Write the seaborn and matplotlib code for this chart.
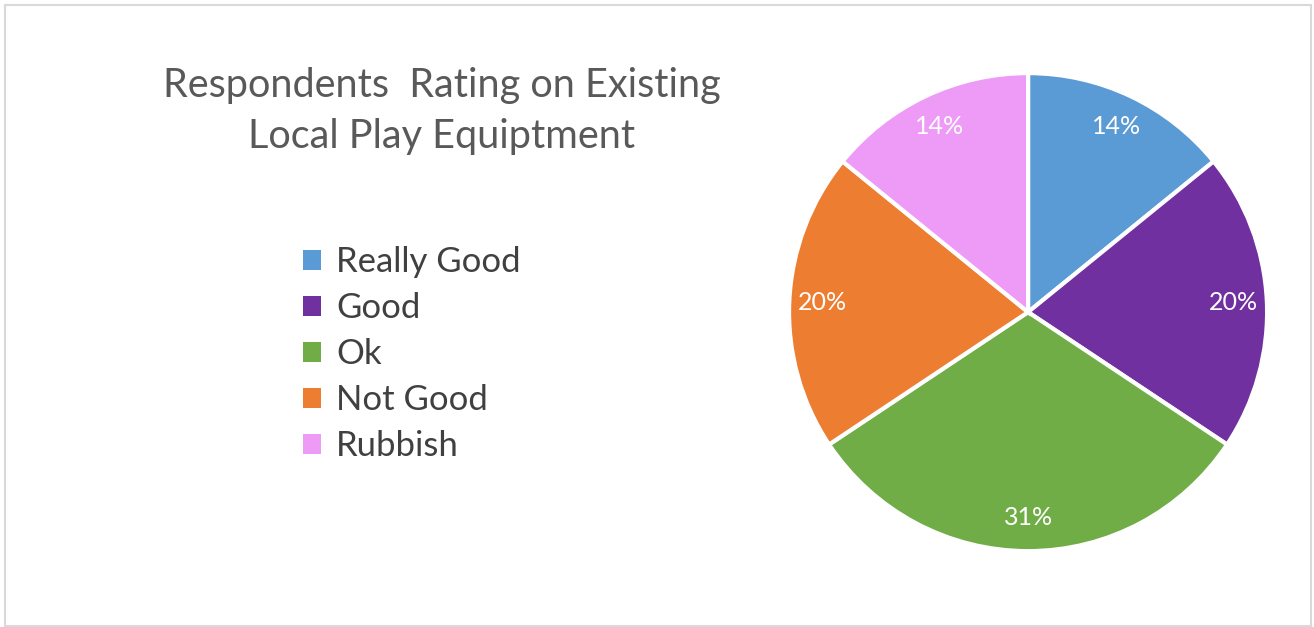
import matplotlib
matplotlib.use("Agg")
import matplotlib.pyplot as plt
import seaborn as sns
from matplotlib.patches import Rectangle

# data
ratings = ["Really Good", "Good", "Ok", "Not Good", "Rubbish"]
shares = [14, 20, 31, 20, 14]
colours = ["#5B9BD5", "#7030A0", "#70AD47", "#ED7D31", "#EE9AF7"]

sns.set_theme(style="white")
plt.rcParams['font.family'] = ['Lato', 'DejaVu Sans']

fig = plt.figure(figsize=(13.14, 6.27), dpi=100)
fig.patch.set_facecolor("white")

# light frame round the chart
fig.add_artist(Rectangle((0.004, 0.002), 0.994, 0.99, transform=fig.transFigure,
                         fill=False, edgecolor="#d9d9d9", linewidth=1.5))

ax = fig.add_axes([0.6005, 0.121, 0.3638, 0.7624])
pal = sns.color_palette(colours)
wedges, texts = ax.pie(shares, labels=[f"{s}%" for s in shares], colors=pal,
                       startangle=90, counterclock=False, labeldistance=0.86,
                       wedgeprops=dict(edgecolor="white", linewidth=3),
                       textprops=dict(color="white", fontsize=18, ha="center", va="center"))
ax.set_xlim(-1, 1)
ax.set_ylim(-1, 1)
ax.set_aspect("equal")

fig.text(0.336, 0.823, "Respondents  Rating on Existing\nLocal Play Equiptment",
         ha="center", va="center", fontsize=28.5, color="#595959", linespacing=1.45)

leg = fig.legend(wedges, ratings, loc="center left", bbox_to_anchor=(0.207, 0.435),
                 frameon=False, fontsize=25, handlelength=0.5, handleheight=0.5,
                 handletextpad=0.45, labelspacing=0.4, labelcolor="#404040")
for h in leg.legend_handles:
    h.set_edgecolor("none")

fig.savefig("out.png", dpi=100, facecolor="white")
